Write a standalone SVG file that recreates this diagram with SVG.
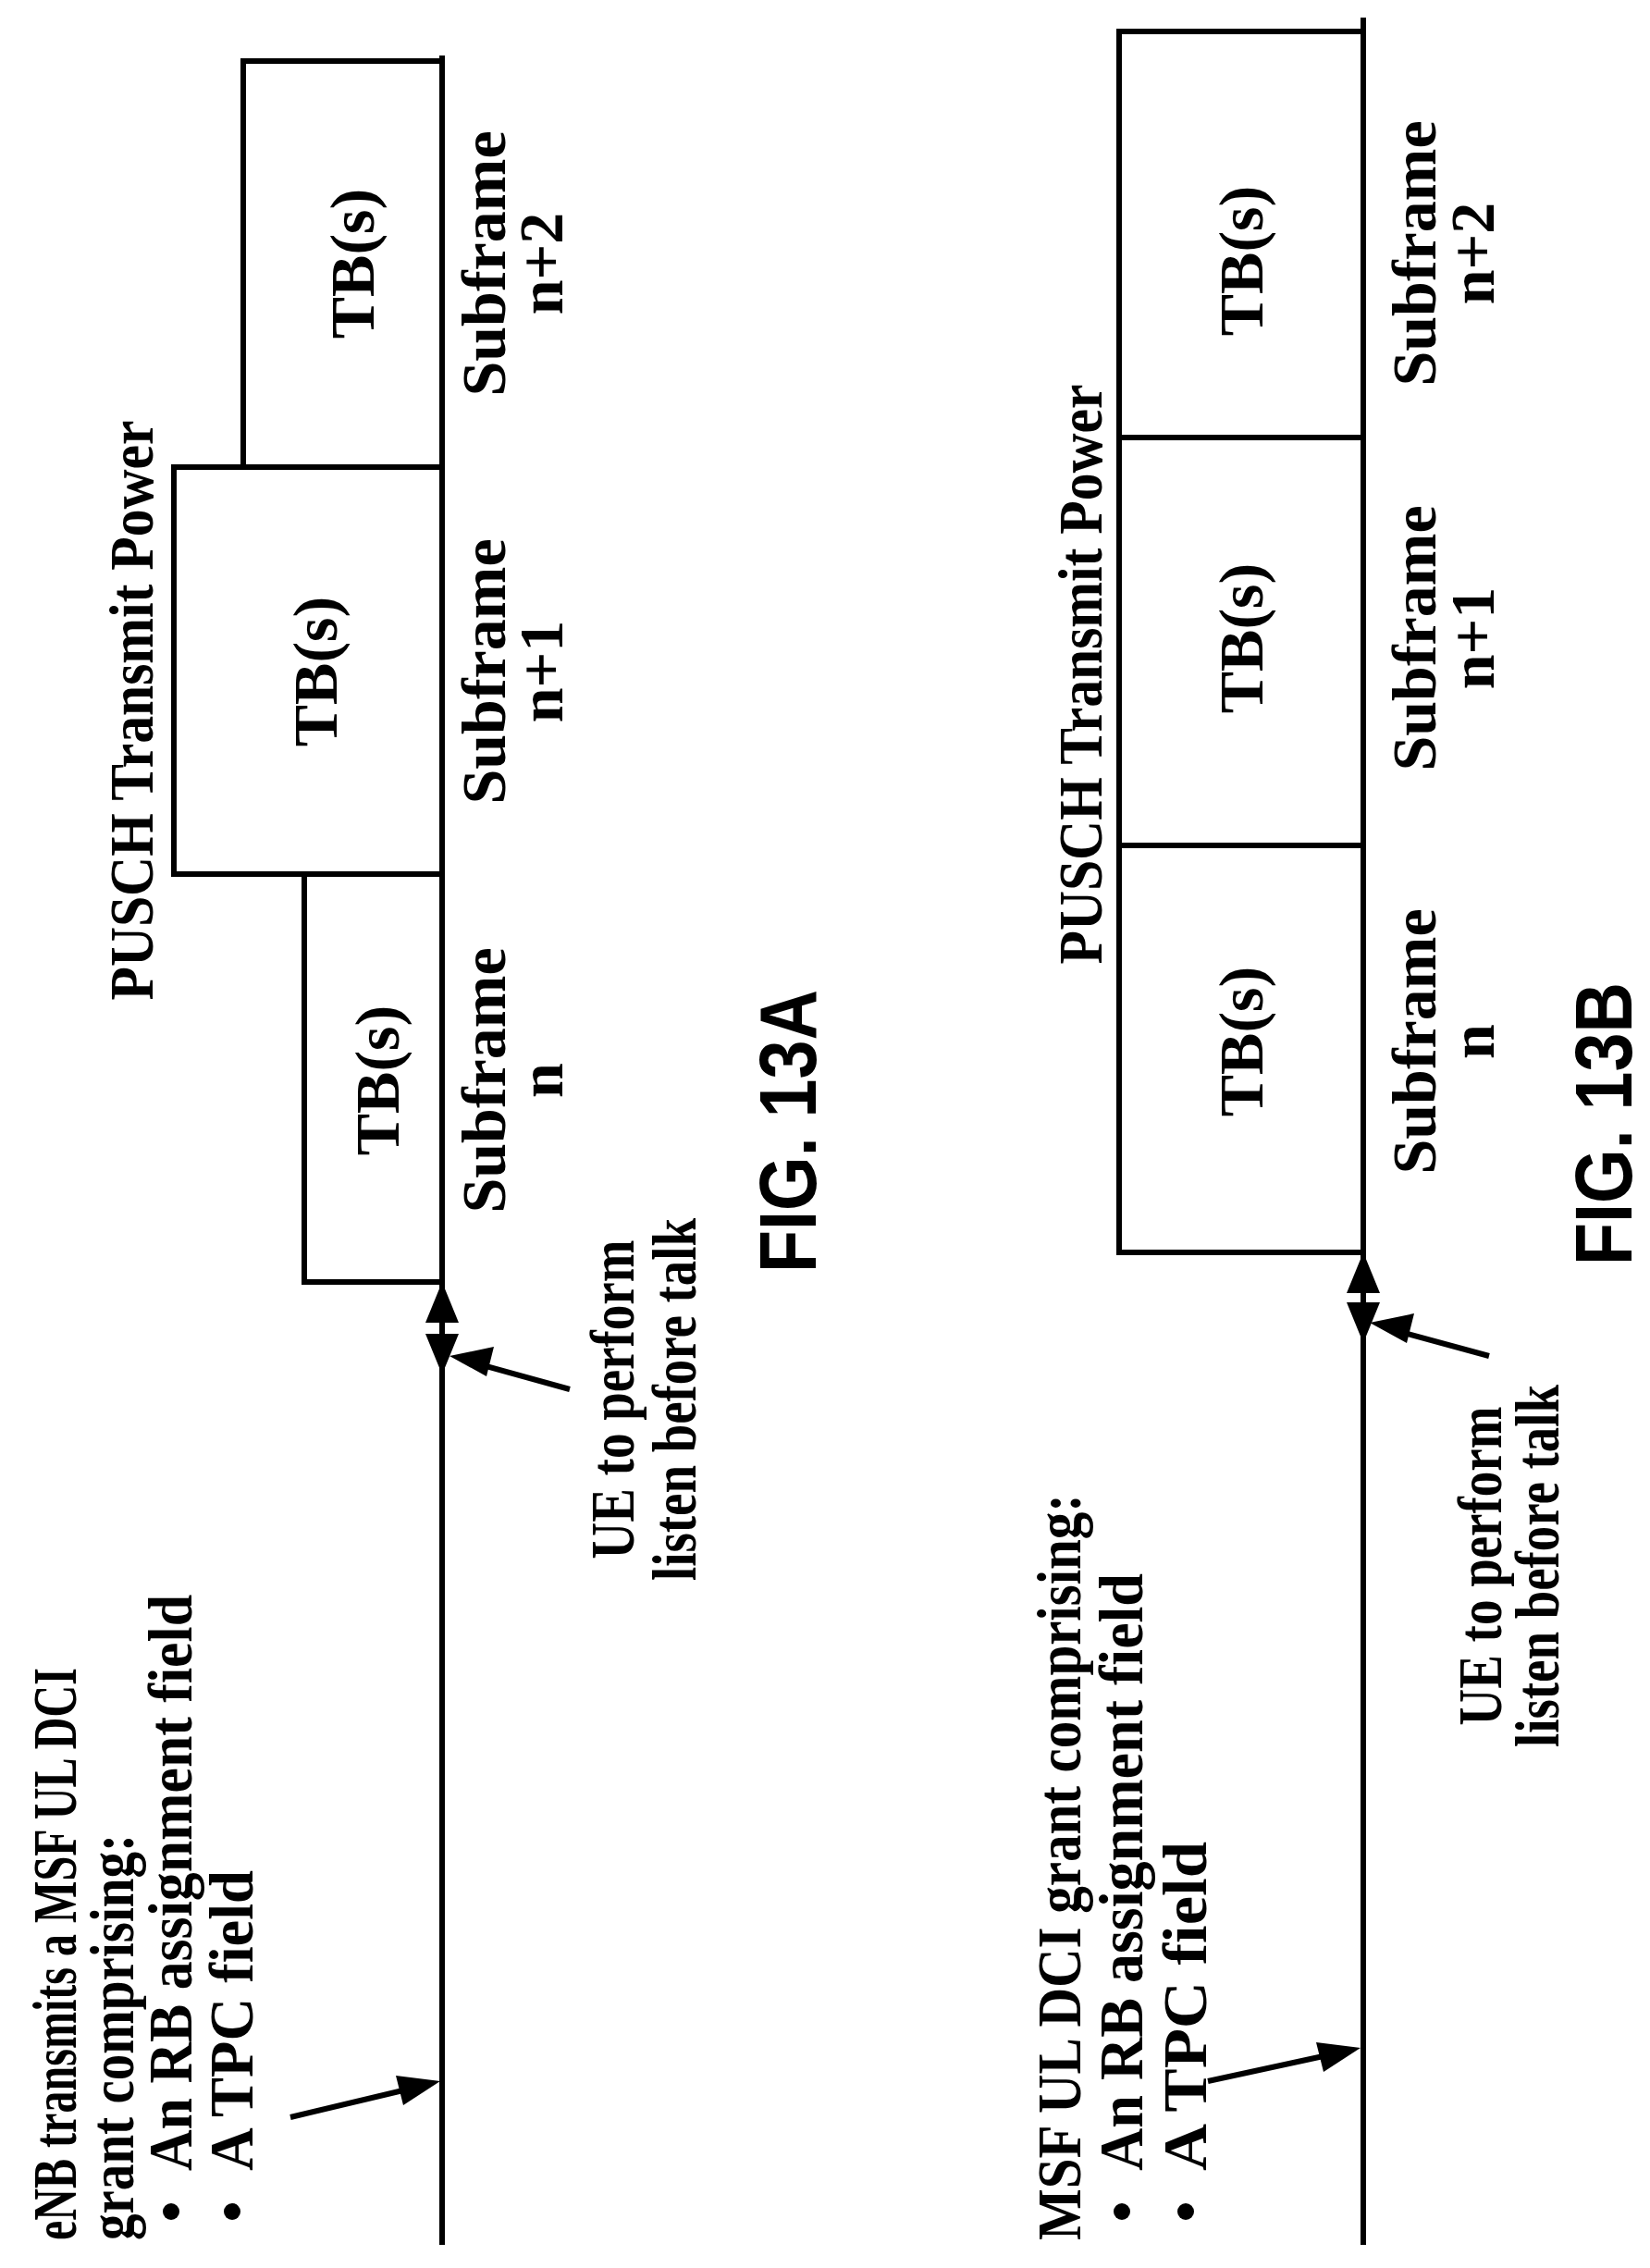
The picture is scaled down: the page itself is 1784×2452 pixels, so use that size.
<svg xmlns="http://www.w3.org/2000/svg" width="1784" height="2452" viewBox="0 0 1784 2452">
<style>
.t{font-family:"Liberation Serif",serif;font-weight:bold;font-size:68px;fill:#000}
.f{font-family:"Liberation Sans",sans-serif;font-weight:bold;font-size:88px;fill:#000}
.box{fill:none;stroke:#000;stroke-width:6}
.ln{stroke:#000;stroke-width:6;fill:none}
</style>
<rect width="1784" height="2452" fill="#fff"/>
<g id="connectors">
<line class="ln" x1="478" y1="60" x2="478" y2="2427"/>
<line class="ln" x1="1474" y1="19" x2="1474" y2="2427"/>
<path d="M478,1386 L460,1430 L496,1430 z"/>
<path d="M478,1486 L460,1442 L496,1442 z"/>
<path d="M1474,1354 L1456,1398 L1492,1398 z"/>
<path d="M1474,1452 L1456,1408 L1492,1408 z"/>
<path d="M476,2250 L428,2244 L436,2276 z"/>
<line class="ln" x1="314" y1="2289" x2="440" y2="2259"/>
<path d="M486,1466 L534,1456 L526,1488 z"/>
<line class="ln" x1="616" y1="1502" x2="500" y2="1470"/>
<path d="M1471,2214 L1423,2208 L1431,2240 z"/>
<line class="ln" x1="1306" y1="2250" x2="1440" y2="2221"/>
<path d="M1481,1430 L1529,1420 L1521,1452 z"/>
<line class="ln" x1="1610" y1="1466" x2="1500" y2="1436"/>
</g>
<g id="figA">
<g id="a-box1"><polyline class="box" points="478,1386 329,1386 329,945 478,945"/>
<text class="t" transform="translate(431,1168) rotate(-90)" text-anchor="middle">TB(s)</text></g>
<g id="a-box2"><polyline class="box" points="478,945 188,945 188,505 478,505"/>
<text class="t" transform="translate(364,726) rotate(-90)" text-anchor="middle">TB(s)</text></g>
<g id="a-box3"><polyline class="box" points="478,505 263,505 263,66 478,66"/>
<text class="t" transform="translate(404,285) rotate(-90)" text-anchor="middle">TB(s)</text></g>
<g id="a-labels">
<text class="t" transform="translate(546,1168) rotate(-90)" text-anchor="middle">Subframe</text>
<text class="t" transform="translate(608,1168) rotate(-90)" text-anchor="middle">n</text>
<text class="t" transform="translate(546,726) rotate(-90)" text-anchor="middle">Subframe</text>
<text class="t" transform="translate(608,726) rotate(-90)" text-anchor="middle">n+1</text>
<text class="t" transform="translate(546,285) rotate(-90)" text-anchor="middle">Subframe</text>
<text class="t" transform="translate(608,285) rotate(-90)" text-anchor="middle">n+2</text>
<text class="t" transform="translate(165,768) rotate(-90)" text-anchor="middle" textLength="627" lengthAdjust="spacingAndGlyphs">PUSCH Transmit Power</text>
<text class="f" transform="translate(882,1223) rotate(-90)" text-anchor="middle" textLength="306" lengthAdjust="spacingAndGlyphs">FIG. 13A</text>
</g>
<g id="a-grant">
<text class="t" transform="translate(82,2422) rotate(-90)" textLength="619" lengthAdjust="spacingAndGlyphs">eNB transmits a MSF UL DCI</text>
<text class="t" transform="translate(144,2422) rotate(-90)" textLength="439" lengthAdjust="spacingAndGlyphs">grant comprising:</text>
<circle cx="185" cy="2391" r="9"/>
<text class="t" transform="translate(207,2347) rotate(-90)" textLength="623" lengthAdjust="spacingAndGlyphs">An RB assignment field</text>
<circle cx="251" cy="2391" r="9"/>
<text class="t" transform="translate(273,2347) rotate(-90)" textLength="325" lengthAdjust="spacingAndGlyphs">A TPC field</text>
</g>
<g id="a-ue">
<text class="t" transform="translate(685,1513) rotate(-90)" text-anchor="middle" textLength="345" lengthAdjust="spacingAndGlyphs">UE to perform</text>
<text class="t" transform="translate(752,1513) rotate(-90)" text-anchor="middle" textLength="392" lengthAdjust="spacingAndGlyphs">listen before talk</text>
</g>
</g>
<g id="figB">
<g id="b-box1"><rect class="box" x="1210" y="914" width="264" height="440"/>
<text class="t" transform="translate(1365,1126) rotate(-90)" text-anchor="middle">TB(s)</text></g>
<g id="b-box2"><rect class="box" x="1210" y="473" width="264" height="441"/>
<text class="t" transform="translate(1365,690) rotate(-90)" text-anchor="middle">TB(s)</text></g>
<g id="b-box3"><rect class="box" x="1210" y="34" width="264" height="439"/>
<text class="t" transform="translate(1365,282) rotate(-90)" text-anchor="middle">TB(s)</text></g>
<g id="b-labels">
<text class="t" transform="translate(1552,1126) rotate(-90)" text-anchor="middle">Subframe</text>
<text class="t" transform="translate(1615,1126) rotate(-90)" text-anchor="middle">n</text>
<text class="t" transform="translate(1552,690) rotate(-90)" text-anchor="middle">Subframe</text>
<text class="t" transform="translate(1615,690) rotate(-90)" text-anchor="middle">n+1</text>
<text class="t" transform="translate(1552,274) rotate(-90)" text-anchor="middle">Subframe</text>
<text class="t" transform="translate(1615,274) rotate(-90)" text-anchor="middle">n+2</text>
<text class="t" transform="translate(1191,729) rotate(-90)" text-anchor="middle" textLength="627" lengthAdjust="spacingAndGlyphs">PUSCH Transmit Power</text>
<text class="f" transform="translate(1764,1215) rotate(-90)" text-anchor="middle" textLength="306" lengthAdjust="spacingAndGlyphs">FIG. 13B</text>
</g>
<g id="b-grant">
<text class="t" transform="translate(1168,2422) rotate(-90)" textLength="807" lengthAdjust="spacingAndGlyphs">MSF UL DCI grant comprising:</text>
<circle cx="1213" cy="2391" r="9"/>
<text class="t" transform="translate(1235,2347) rotate(-90)" textLength="646" lengthAdjust="spacingAndGlyphs">An RB assignment field</text>
<circle cx="1282" cy="2391" r="9"/>
<text class="t" transform="translate(1304,2347) rotate(-90)" textLength="356" lengthAdjust="spacingAndGlyphs">A TPC field</text>
</g>
<g id="b-ue">
<text class="t" transform="translate(1623,1693) rotate(-90)" text-anchor="middle" textLength="345" lengthAdjust="spacingAndGlyphs">UE to perform</text>
<text class="t" transform="translate(1685,1693) rotate(-90)" text-anchor="middle" textLength="392" lengthAdjust="spacingAndGlyphs">listen before talk</text>
</g>
</g>
</svg>
